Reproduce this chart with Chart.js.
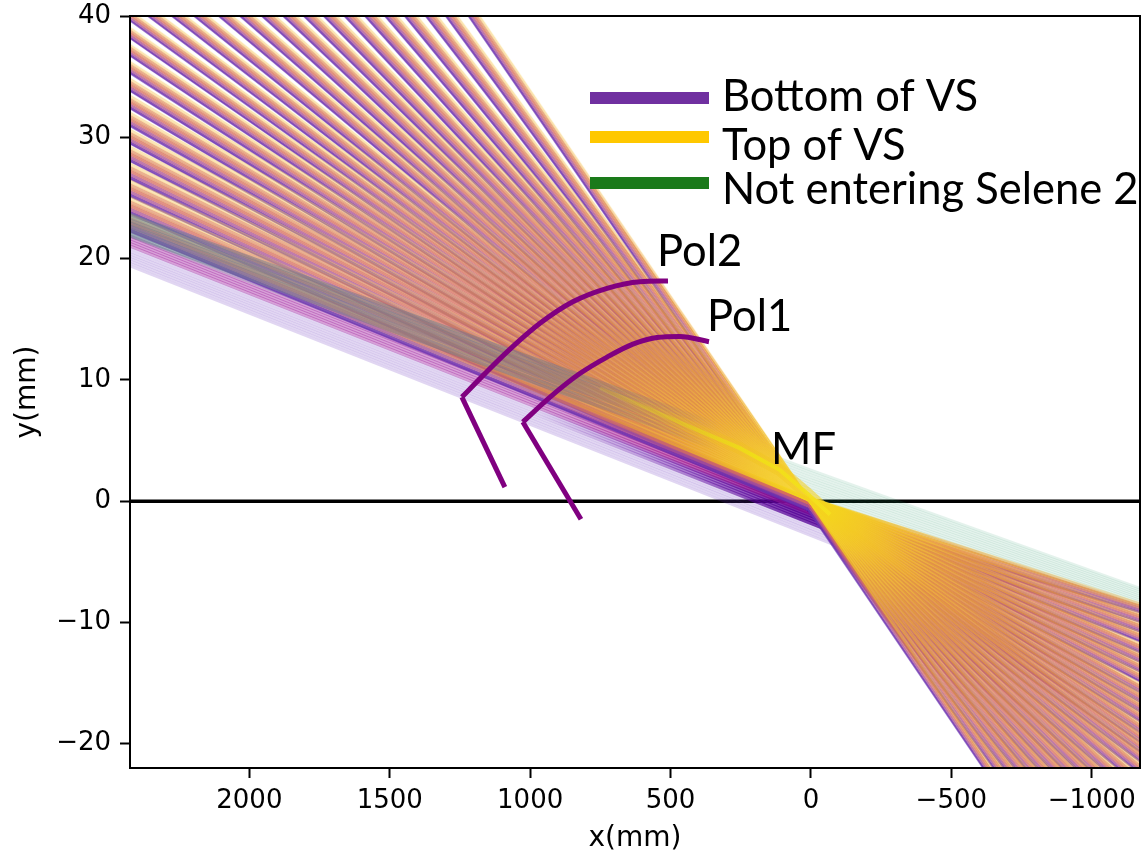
<!DOCTYPE html>
<html>
<head>
<meta charset="utf-8">
<title>Ray fan</title>
<style>
  html, body { margin: 0; background: #fff; }
  canvas { display: block; }
</style>
<script src="https://cdn.jsdelivr.net/npm/chart.js@4/dist/chart.umd.js"></script>
</head>
<body>
<canvas id="rays" width="1144" height="853"></canvas>
<script>
// x range of the plot, x axis runs backwards
const xLeft = 2425;
const xRight = -1172;
const xTicks = [2000, 1500, 1000, 500, 0, -500, -1000];
const yTicks = [40, 30, 20, 10, 0, -10, -20];

// fan rays: y at the left edge, one list per VS height (bottom to top), one value per stripe
const leftBottom = [80.55,75.45,71.45,67.7,64.5,61.55,58.8,56.25,54,51.85,49.8,47.85,46.1,44.22,42.65,41.08,39.6,38.15,36.7,35.25,33.8,32.35,30.9,29.45,28,26.55,25.1,23.65,22.2];
const leftLow = [80.9,75.78,71.76,68,64.78,61.82,59.06,56.5,54.24,52.08,50.02,48.06,46.3,44.42,42.84,41.26,39.78,38.34,36.9,35.46,34.02,32.58,31.14,29.7,28.26,26.82,25.38,23.94,22.5];
const leftMidLow = [81.25,76.11,72.07,68.3,65.06,62.09,59.32,56.75,54.48,52.31,50.24,48.27,46.5,44.61,43.03,41.45,39.96,38.53,37.1,35.67,34.24,32.81,31.38,29.95,28.52,27.09,25.66,24.23,22.8];
const leftMidHigh = [81.6,76.44,72.38,68.6,65.34,62.36,59.58,57,54.72,52.54,50.46,48.48,46.7,44.81,43.22,41.63,40.14,38.72,37.3,35.88,34.46,33.04,31.62,30.2,28.78,27.36,25.94,24.52,23.1];
const leftHigh = [81.95,76.77,72.69,68.9,65.62,62.63,59.84,57.25,54.96,52.77,50.68,48.69,46.9,45,43.41,41.82,40.32,38.91,37.5,36.09,34.68,33.27,31.86,30.45,29.04,27.63,26.22,24.81,23.4];
const leftTop = [82.3,77.1,73,69.2,65.9,62.9,60.1,57.5,55.2,53,50.9,48.9,47.1,45.2,43.6,42,40.5,39.1,37.7,36.3,34.9,33.5,32.1,30.7,29.3,27.9,26.5,25.1,23.7];

// same rays at the right edge
const rightBottom = [-41.1,-38.9,-36.9,-35,-33.3,-31.6,-30,-28.6,-27.2,-26,-24.8,-23.6,-22.5,-21.5,-20.7,-19.9,-19.1,-18.2,-17.4,-16.6,-15.8,-14.9,-14.1,-13.3,-12.5,-11.6,-10.8,-10,-9.2];
const rightLow = [-40.84,-38.63,-36.62,-34.71,-33.01,-31.32,-29.73,-28.34,-26.95,-25.76,-24.57,-23.38,-22.29,-21.3,-20.5,-19.71,-18.91,-18.02,-17.22,-16.42,-15.63,-14.73,-13.93,-13.13,-12.33,-11.43,-10.63,-9.83,-9.03];
const rightMidLow = [-40.58,-38.36,-36.34,-34.42,-32.72,-31.04,-29.46,-28.08,-26.7,-25.52,-24.34,-23.16,-22.08,-21.1,-20.3,-19.52,-18.72,-17.84,-17.04,-16.24,-15.46,-14.56,-13.76,-12.96,-12.16,-11.26,-10.46,-9.66,-8.86];
const rightMidHigh = [-40.32,-38.09,-36.06,-34.13,-32.43,-30.76,-29.19,-27.82,-26.45,-25.28,-24.11,-22.94,-21.87,-20.9,-20.1,-19.33,-18.53,-17.66,-16.86,-16.06,-15.29,-14.39,-13.59,-12.79,-11.99,-11.09,-10.29,-9.49,-8.69];
const rightHigh = [-40.06,-37.82,-35.78,-33.84,-32.14,-30.48,-28.92,-27.56,-26.2,-25.04,-23.88,-22.72,-21.66,-20.7,-19.9,-19.14,-18.34,-17.48,-16.68,-15.88,-15.12,-14.22,-13.42,-12.62,-11.82,-10.92,-10.12,-9.32,-8.52];
const rightTop = [-39.8,-37.55,-35.5,-33.55,-31.85,-30.2,-28.65,-27.3,-25.95,-24.8,-23.65,-22.5,-21.45,-20.5,-19.7,-18.95,-18.15,-17.3,-16.5,-15.7,-14.95,-14.05,-13.25,-12.45,-11.65,-10.75,-9.95,-9.15,-8.35];

// where the rays of one VS height cross near the field
const waistX = 10;
const waistY = [-0.75, -0.5, -0.25, 0, 0.2, 0.4];

// purple rays that stop at the steep edge of the fan
const bandLeftY = [19.39,19.6,19.8,20,20.2,20.4,20.6,20.83,21.04,21.25,21.45,21.66,21.86];
const bandEndX = [-108,-100,-92,-84,-76,-68,-60,-52,-43,-35,-27,-19,-11];
const bandEndY = [-3.85,-3.57,-3.29,-3.01,-2.73,-2.45,-2.17,-1.89,-1.61,-1.33,-1.05,-0.77,-0.49];

// the same band gets dark near the field
const washLeftY = [20.4,20.6,20.83,21.04,21.25,21.45,21.66,21.86,22.1,22.4,22.7];
const washEndX = [-68,-60,-52,-43,-35,-27,-19,-11,0,6,11];
const washEndY = [-2.45,-2.17,-1.89,-1.61,-1.33,-1.05,-0.77,-0.49,-0.2,0,0.2];

// grey part of the band on the left
const dustyLeftY = [23.63,23.39,23.14,22.9,22.65,22.4,22.15,21.9];
const dustyEndX = [324,324,324,324,324,324,324,324];
const dustyEndY = [6.3,6.05,5.8,5.5,5.2,4.9,4.55,4.2];

// bright streak running into the field
const streakX = [751,609,395,253,110,14,-68];
const streakY = [9.32,7.92,5.78,4.37,2.56,0.66,-1.1];

// rays not entering Selene 2
const greenLeftY = [23.68,23.51,23.35,23.18,23.02,22.85,22.69,22.52,22.35,22.19,22.02,21.86];
const greenMidY = [2.56,2.36,2.16,1.95,1.75,1.55,1.35,1.14,0.94,0.74,0.54,0.33];
const greenRightY = [-7.18,-7.34,-7.51,-7.67,-7.84,-8,-8.17,-8.33,-8.5,-8.66,-8.83,-9];

// polarizers: straight stem, then the curved part
const pol2StemX = [1090,1243];
const pol2StemY = [1.16,8.58];
const pol2ArcX = [1243,1168,1083,965,848,726,609,509];
const pol2ArcY = [8.58,10.35,12.29,14.66,16.44,17.55,18.09,18.15];
const pol1StemX = [819,1026];
const pol1StemY = [-1.49,6.52];
const pol1ArcX = [1026,929,823,726,634,548,467,363];
const pol1ArcY = [6.52,8.58,10.52,11.88,12.95,13.49,13.58,13.15];

const fanLeft = [leftBottom, leftLow, leftMidLow, leftMidHigh, leftHigh, leftTop];
const fanRight = [rightBottom, rightLow, rightMidLow, rightMidHigh, rightHigh, rightTop];
const fanLineColors = [
    'rgba(100,40,175,0.6)',
    'rgba(175,80,150,0.3)',
    'rgba(215,115,90,0.3)',
    'rgba(222,135,70,0.3)',
    'rgba(240,170,70,0.2)',
    'rgba(250,215,110,0.2)'
];

const canvas = document.getElementById('rays');
const ctx2d = canvas.getContext('2d');

// the two top bands turn gold close to the field
const waistOrange = ctx2d.createRadialGradient(810, 500, 0, 810, 500, 480);
waistOrange.addColorStop(0, 'rgba(245,220,25,0.95)');
waistOrange.addColorStop(0.15, 'rgba(240,190,40,0.9)');
waistOrange.addColorStop(0.35, 'rgba(232,155,55,0.85)');
waistOrange.addColorStop(0.6, 'rgba(225,138,68,0.8)');
waistOrange.addColorStop(1, 'rgba(222,135,90,0.65)');

const waistGlow = ctx2d.createRadialGradient(810, 500, 0, 810, 500, 480);
waistGlow.addColorStop(0, 'rgba(245,220,25,0.95)');
waistGlow.addColorStop(0.12, 'rgba(243,200,35,0.85)');
waistGlow.addColorStop(0.3, 'rgba(238,165,50,0.55)');
waistGlow.addColorStop(0.6, 'rgba(238,165,70,0.4)');
waistGlow.addColorStop(1, 'rgba(245,195,90,0.42)');

const fanBandColors = [
    'rgba(110,50,175,0.82)',
    'rgba(170,80,150,0.75)',
    'rgba(215,110,95,0.75)',
    waistOrange,
    waistGlow
];

function ray(points, color, width) {
    return {
        data: points,
        borderColor: color,
        borderWidth: width,
        showLine: true,
        pointRadius: 0,
        tension: 0,
        fill: false
    };
}

function pairs(xs, ys) {
    return xs.map((x, i) => ({ x: x, y: ys[i] }));
}

// stroke that only shows over part of the x range
function fade(stops) {
    let gradient = null;
    return ctx => {
        const x = ctx.chart.scales.x;
        if (gradient) return gradient;
        const from = x ? x.getPixelForValue(stops[0][0]) : NaN;
        const to = x ? x.getPixelForValue(stops[stops.length - 1][0]) : NaN;
        if (!ctx.chart.chartArea || !isFinite(from) || !isFinite(to)) return 'rgba(0,0,0,0)';
        gradient = ctx.chart.ctx.createLinearGradient(from, 0, to, 0);
        stops.forEach(([value, color]) => {
            gradient.addColorStop((x.getPixelForValue(value) - from) / (to - from), color);
        });
        return gradient;
    };
}

const darkPurple = fade([[1000, 'rgba(96,0,160,0)'], [600, 'rgba(96,0,160,0.25)'], [60, 'rgba(85,0,150,0.75)']]);
const darkMagenta = fade([[900, 'rgba(170,30,140,0)'], [500, 'rgba(170,30,140,0.4)'], [60, 'rgba(120,10,150,0.9)']]);
const dustyColor = fade([[2425, 'rgba(105,125,145,0.5)'], [900, 'rgba(105,120,140,0.45)'], [324, 'rgba(105,100,130,0)']]);
const streakColor = fade([[900, 'rgba(225,215,25,0)'], [500, 'rgba(225,215,25,0.45)'], [200, 'rgba(240,225,20,0.85)'], [-68, 'rgba(245,225,30,0.9)']]);
const streakSoft = fade([[700, 'rgba(240,190,30,0)'], [300, 'rgba(240,190,30,0.4)'], [-68, 'rgba(245,210,30,0.6)']]);

// built in paint order, reversed below because Chart.js paints the first dataset last
const paint = [];
paint.push(ray(pairs([xLeft, xRight], [0, 0]), '#000', 3.5));
bandLeftY.forEach((y, i) => {
    const color = i < 8 ? 'rgba(106,48,192,0.2)' : 'rgba(160,32,160,0.42)';
    paint.push(ray(pairs([xLeft, bandEndX[i]], [y, bandEndY[i]]), color, i < 8 ? 2.6 : 3.2));
});
washLeftY.forEach((y, i) => {
    paint.push(ray(pairs([xLeft, washEndX[i]], [y, washEndY[i]]), i < 4 ? darkPurple : darkMagenta, 3.5));
});
greenLeftY.forEach((y, i) => {
    paint.push(ray(pairs([xLeft, 0, xRight], [y, greenMidY[i], greenRightY[i]]), 'rgba(46,154,110,0.13)', 2.8));
});

// each VS height is painted in one go, yellow ends on top
const rayIndex = fanLeft.map(() => []);
fanLeft.forEach((list, level) => {
    list.forEach((y, i) => {
        rayIndex[level][i] = paint.length;
        paint.push(ray(pairs([xLeft, waistX, xRight], [y, waistY[level], fanRight[level][i]]), fanLineColors[level], 1.4));
    });
});
dustyLeftY.forEach((y, i) => {
    paint.push(ray(pairs([xLeft, dustyEndX[i]], [y, dustyEndY[i]]), dustyColor, 3.4));
});
paint.push(ray(pairs(streakX, streakY), streakSoft, 12));
paint.push(ray(pairs(streakX, streakY), streakColor, 4));

function arc(points) {
    return Object.assign(ray(points, '#800080', 5), { cubicInterpolationMode: 'monotone' });
}
paint.push(ray(pairs(pol2StemX, pol2StemY), '#800080', 5));
paint.push(arc(pairs(pol2ArcX, pol2ArcY)));
paint.push(ray(pairs(pol1StemX, pol1StemY), '#800080', 5));
paint.push(arc(pairs(pol1ArcX, pol1ArcY)));

// colour between neighbouring VS heights of one stripe
rayIndex.forEach((rays, level) => {
    if (level === 0) return;
    rays.forEach((index, i) => {
        paint[index].fill = {
            target: paint.length - 1 - rayIndex[level - 1][i],
            above: fanBandColors[level - 1],
            below: fanBandColors[level - 1]
        };
    });
});

const annotations = {
    id: 'annotations',
    afterDraw(chart) {
        const ctx = chart.ctx;
        const area = chart.chartArea;
        ctx.save();
        ctx.strokeStyle = '#000';
        ctx.lineWidth = 2;
        ctx.strokeRect(area.left, area.top, area.width, area.height);

        ctx.lineWidth = 12;
        [['#7030a0', 98], ['#ffc800', 137], ['#1a7a1a', 183]].forEach(([color, y]) => {
            ctx.strokeStyle = color;
            ctx.beginPath();
            ctx.moveTo(590, y);
            ctx.lineTo(709, y);
            ctx.stroke();
        });

        ctx.fillStyle = '#000';
        ctx.textBaseline = 'middle';
        ctx.font = '43.5px Lato';
        ctx.fillText('Bottom of VS', 722, 97);
        ctx.fillText('Top of VS', 722, 146);
        ctx.fillText('Not entering Selene 2', 722, 190);
        ctx.fillText('Pol2', 657, 252);
        ctx.fillText('Pol1', 707, 317);
        ctx.fillText('MF', 771, 450);
        ctx.restore();
    }
};

// keep the plot box where it is, whatever the tick labels need
function noScalePadding(scale) {
    scale.paddingTop = 0;
    scale.paddingBottom = 0;
    scale.paddingLeft = 0;
    scale.paddingRight = 0;
}

new Chart(canvas, {
    type: 'scatter',
    data: { datasets: paint.reverse() },
    plugins: [annotations],
    options: {
        responsive: false,
        animation: false,
        events: [],
        layout: { padding: { top: 16, right: 4, left: 0, bottom: 0 } },
        plugins: {
            legend: { display: false },
            tooltip: { enabled: false },
            filler: { propagate: false }
        },
        scales: {
            x: {
                type: 'linear',
                reverse: true,
                min: xRight,
                max: xLeft,
                afterBuildTicks(scale) { scale.ticks = xTicks.map(v => ({ value: v })); },
                afterFit(scale) { scale.height = 85; noScalePadding(scale); },
                grid: { drawOnChartArea: false, tickLength: 10, tickWidth: 2, tickColor: '#000' },
                border: { color: '#000', width: 2 },
                ticks: {
                    color: '#000',
                    maxRotation: 0,
                    autoSkip: false,
                    padding: 8,
                    font: { family: 'DejaVu Sans', size: 26 },
                    callback: v => String(v).replace('-', '\u2212')
                },
                title: {
                    display: true,
                    text: 'x(mm)',
                    color: '#000',
                    padding: { top: 0, bottom: 0 },
                    font: { family: 'DejaVu Sans', size: 28, lineHeight: 1 }
                }
            },
            y: {
                type: 'linear',
                min: -22,
                max: 40,
                afterBuildTicks(scale) { scale.ticks = yTicks.map(v => ({ value: v })); },
                afterFit(scale) { scale.width = 130; noScalePadding(scale); },
                grid: { drawOnChartArea: false, tickLength: 10, tickWidth: 2, tickColor: '#000' },
                border: { color: '#000', width: 2 },
                ticks: {
                    color: '#000',
                    autoSkip: false,
                    padding: 9,
                    font: { family: 'DejaVu Sans', size: 26 },
                    callback: v => String(v).replace('-', '\u2212')
                },
                title: {
                    display: true,
                    text: 'y(mm)',
                    color: '#000',
                    padding: { top: 14, bottom: 0 },
                    font: { family: 'DejaVu Sans', size: 28, lineHeight: 1 }
                }
            }
        }
    }
});
</script>
</body>
</html>
